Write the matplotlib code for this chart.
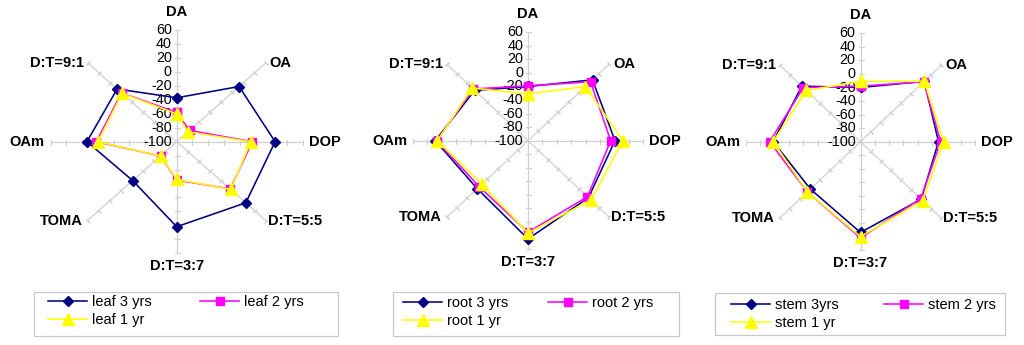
import matplotlib
matplotlib.use('Agg')
import matplotlib.pyplot as plt
import numpy as np
from matplotlib.patches import Rectangle
from matplotlib.lines import Line2D

plt.rcParams['font.family'] = ['Liberation Sans', 'DejaVu Sans']

# ---------------- data ----------------
categories = ['DA', 'OA', 'DOP', 'D:T=5:5', 'D:T=3:7', 'TOMA', 'OAm', 'D:T=9:1']
radial_ticks = [60, 40, 20, 0, -20, -40, -60, -80, -100]

leaf_labels = ['leaf 3 yrs', 'leaf 2 yrs', 'leaf 1 yr']
leaf_3yrs = [-37, 12, 25, 24, 22, -21, 14, 7]
leaf_2yrs = [-58, -77, -4, -4, -45, -71, 2, -1]
leaf_1yr = [-60, -80, -6, -3, -46, -71, 0, -2]

root_labels = ['root 3 yrs', 'root 2 yrs', 'root 1 yr']
root_3yrs = [-20, 27, 21, 19, 45, 0, 29, 5]
root_2yrs = [-19, 23, 15, 17, 35, -4, 27, 8]
root_1yr = [-31, 13, 32, 24, 36, -9, 26, 10]

stem_labels = ['stem 3yrs', 'stem 2 yrs', 'stem 1 yr']
stem_3yrs = [-20, 26, 9, 20, 34, -1, 22, 16]
stem_2yrs = [-18, 25, 12, 19, 42, 5, 27, 13]
stem_1yr = [-11, 26, 16, 23, 40, 5, 22, 7]

# ---------------- style ----------------
W, H, DPI = 1024, 345, 100
colors = ['#000080', '#FF00FF', '#FFFF00']
markers = ['D', 's', '^']
msizes = [4.6, 6.0, 8.5]
PX = 72.0 / DPI  # points per pixel
GRID = '#d0d0d0'
LEG_FS = 10.5

fig = plt.figure(figsize=(W / DPI, H / DPI), dpi=DPI)
fig.patch.set_facecolor('white')

panels = [
    dict(cx=176.7, cy=141.7, rx=126.0, ry=111.5,
         series=[leaf_3yrs, leaf_2yrs, leaf_1yr], labels=leaf_labels,
         box=(34, 292, 338, 336), leg_x=48, col2_x=200, row1_y=303),
    dict(cx=528.0, cy=140.7, rx=115.0, ry=108.4,
         series=[root_3yrs, root_2yrs, root_1yr], labels=root_labels,
         box=(393, 292, 679, 336), leg_x=403, col2_x=548, row1_y=304),
    dict(cx=860.5, cy=141.7, rx=114.5, ry=108.4,
         series=[stem_3yrs, stem_2yrs, stem_1yr], labels=stem_labels,
         box=(715, 293, 1005, 335), leg_x=731, col2_x=884, row1_y=306),
]

# label placement: (ha, va, dx_px, dy_px)
label_pos = {
    'DA': ('center', 'bottom', 0, 11),
    'OA': ('left', 'center', 4, 0),
    'DOP': ('left', 'center', 6, 0),
    'D:T=5:5': ('left', 'center', 2, 0),
    'D:T=3:7': ('center', 'top', 0, -6),
    'TOMA': ('right', 'center', -5, 0),
    'OAm': ('right', 'center', -6, 0),
    'D:T=9:1': ('right', 'center', -4, 0),
}

n = len(categories)
angles = np.arange(n) * 2 * np.pi / n
angles_closed = np.append(angles, angles[0])

for p in panels:
    left = (p['cx'] - p['rx']) / W
    bottom = (H - (p['cy'] + p['ry'])) / H
    ax = fig.add_axes([left, bottom, 2 * p['rx'] / W, 2 * p['ry'] / H],
                      projection='polar')
    ax.set_aspect('auto')
    ax.set_theta_zero_location('N')
    ax.set_theta_direction(-1)
    ax.set_ylim(min(radial_ticks), max(radial_ticks))
    ax.set_xticks(angles)
    ax.set_xticklabels([])
    ax.set_yticks([])
    ax.xaxis.grid(True, color=GRID, lw=0.9)
    ax.yaxis.grid(False)
    ax.spines['polar'].set_visible(False)
    ax.patch.set_alpha(0)
    ax.tick_params(axis='x', length=0)

    # tick marks across each spoke
    tick_r = [t for t in radial_ticks if t != min(radial_ticks)]
    for a in angles:
        ax.plot([a] * len(tick_r), tick_r, ls='none',
                marker=(2, 2, 90 - np.degrees(a)), ms=3.6, mec=GRID, mew=0.8,
                clip_on=False, zorder=1)

    # radial value labels along the DA axis
    for t in radial_ticks:
        ax.annotate(str(t), xy=(0, t), xytext=(-5 * PX, 0),
                    textcoords='offset points', ha='right', va='center',
                    fontsize=10.4, color='black', annotation_clip=False)

    # category labels
    for a, c in zip(angles, categories):
        ha, va, dx, dy = label_pos[c]
        ax.annotate(c, xy=(a, max(radial_ticks)), xytext=(dx * PX, dy * PX),
                    textcoords='offset points', ha=ha, va=va,
                    fontsize=10.5, fontweight='bold', annotation_clip=False)

    # series
    handles = []
    for vals, col, mk, ms, lab in zip(p['series'], colors, markers, msizes,
                                      p['labels']):
        vv = np.append(vals, vals[0])
        ln, = ax.plot(angles_closed, vv, color=col, lw=1.15, marker=mk, ms=ms,
                      mfc=col, mec=col, clip_on=False, zorder=3, label=lab)
        handles.append(ln)

    # legend frame
    x0, y0, x1, y1 = p['box']
    fig.add_artist(Rectangle((x0 / W, 1 - y1 / H), (x1 - x0) / W,
                             (y1 - y0) / H, transform=fig.transFigure,
                             fill=False, ec='#c8c8c8', lw=0.9))

    order = [0, 2, 1]
    hh = [handles[i] for i in order]
    ll = [p['labels'][i] for i in order]
    fs_px = LEG_FS / PX
    hl, htp = 2.7, 0.3
    kw = dict(loc='center left', ncol=2, frameon=False, fontsize=LEG_FS,
              handlelength=hl, handletextpad=htp, borderpad=0,
              borderaxespad=0, labelspacing=0.3, numpoints=1)
    leg = fig.legend(hh, ll, bbox_to_anchor=(p['leg_x'] / W, 0.5),
                     columnspacing=2.0, **kw)
    fig.canvas.draw()
    r = fig.canvas.get_renderer()
    wmax = max(t.get_window_extent(r).width for t in leg.get_texts()[:2])
    lh = leg.get_window_extent(r).height
    leg.remove()
    cs = (p['col2_x'] - p['leg_x'] - (hl + htp) * fs_px - wmax) / fs_px
    row_h = lh / 2.0
    ycenter = p['row1_y'] + (lh - row_h) / 2.0
    fig.legend(hh, ll, bbox_to_anchor=(p['leg_x'] / W, 1 - ycenter / H),
               columnspacing=cs, **kw)

fig.savefig('out.png', dpi=DPI, facecolor='white')
